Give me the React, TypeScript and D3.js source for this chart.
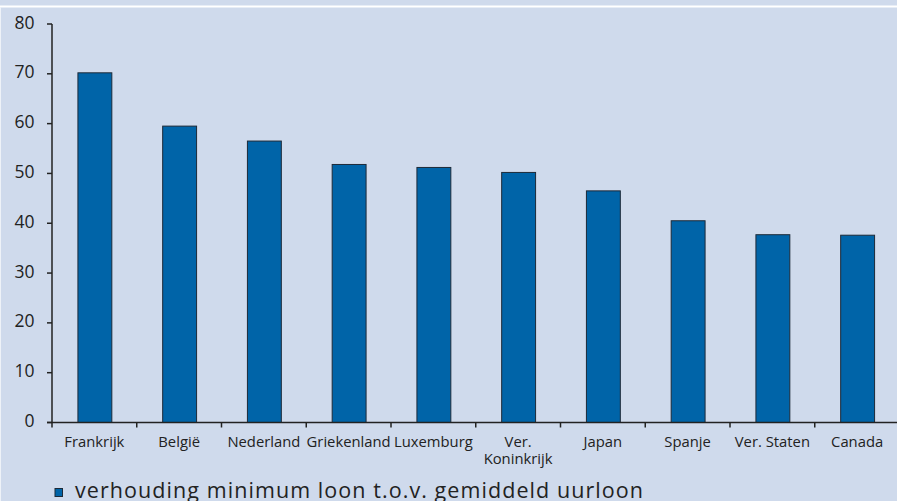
import * as d3 from "d3";

const categories = [
  "Frankrijk",
  "België",
  "Nederland",
  "Griekenland",
  "Luxemburg",
  "Ver.\nKoninkrijk",
  "Japan",
  "Spanje",
  "Ver. Staten",
  "Canada",
];
const values = [70.2, 59.5, 56.5, 51.8, 51.2, 50.2, 46.5, 40.5, 37.7, 37.6];
const yTicks = [0, 10, 20, 30, 40, 50, 60, 70, 80];
const legendLabel = "verhouding minimum loon t.o.v. gemiddeld uurloon";

const width = 897;
const height = 501;
const bg = "#cfdaec";
const barColor = "#0064a8";
const ink = "#222";
const font = "'Open Sans', 'Noto Sans', sans-serif";

export default function App() {
  const x = d3.scaleBand<string>()
    .domain(categories)
    .range([52, 899.5])
    .paddingInner(0.6)
    .paddingOuter(0.3);
  const y = d3.scaleLinear().domain([0, 80]).range([422.5, 24]);
  const step = x.step();
  const bw = x.bandwidth();

  // boundaries between categories
  const boundaries = categories.map((c) => (x(c) ?? 0) + bw / 2 - step / 2);

  return (
    <div style={{ position: "fixed", left: 0, top: 0 }}>
      <svg width={width} height={height} style={{ display: "block" }}>
        <rect x={0} y={0} width={width} height={height} fill={bg} />
        <rect x={0} y={5.5} width={width} height={2} fill="#fff" />
        <rect x={0} y={7} width={1} height={height} fill="#eef2f8" />

        {/* bars */}
        {categories.map((c, i) => (
          <rect
            key={c}
            x={(x(c) ?? 0) + 0.5}
            y={y(values[i])}
            width={bw}
            height={y(0) - y(values[i])}
            fill={barColor}
            stroke="#1d2a38"
            strokeWidth={1}
          />
        ))}

        {/* y axis */}
        <line x1={52} x2={52} y1={y(80)} y2={y(0)} stroke={ink} strokeWidth={1.5} />
        {yTicks.map((t) => (
          <g key={t}>
            <line x1={47} x2={52} y1={y(t)} y2={y(t)} stroke={ink} strokeWidth={1.5} />
            <text
              x={34.5}
              y={y(t) + 4.5}
              textAnchor="end"
              fontFamily={font}
              fontSize={17.5}
              fill={ink}
            >
              {t}
            </text>
          </g>
        ))}

        {/* x axis */}
        <line x1={47} x2={width} y1={y(0)} y2={y(0)} stroke={ink} strokeWidth={1.5} />
        {boundaries.map((b, i) => (
          <line key={i} x1={b} x2={b} y1={y(0)} y2={y(0) + 5} stroke={ink} strokeWidth={1.5} />
        ))}
        {categories.map((c) => (
          <text
            key={c}
            x={(x(c) ?? 0) + bw / 2}
            y={447}
            textAnchor="middle"
            fontFamily={font}
            fontSize={14.8}
            fill={ink}
          >
            {c.split("\n").map((line, j) => (
              <tspan key={j} x={(x(c) ?? 0) + bw / 2} dy={j === 0 ? 0 : 17}>
                {line}
              </tspan>
            ))}
          </text>
        ))}

        {/* legend */}
        <rect x={55} y={488.5} width={7.5} height={8} fill={barColor} stroke="#1d2a38" strokeWidth={1} />
        <text
          x={75}
          y={498}
          fontFamily={font}
          fontSize={21.5}
          fill={ink}
          textLength={568}
          lengthAdjust="spacing"
        >
          {legendLabel}
        </text>
      </svg>
    </div>
  );
}
